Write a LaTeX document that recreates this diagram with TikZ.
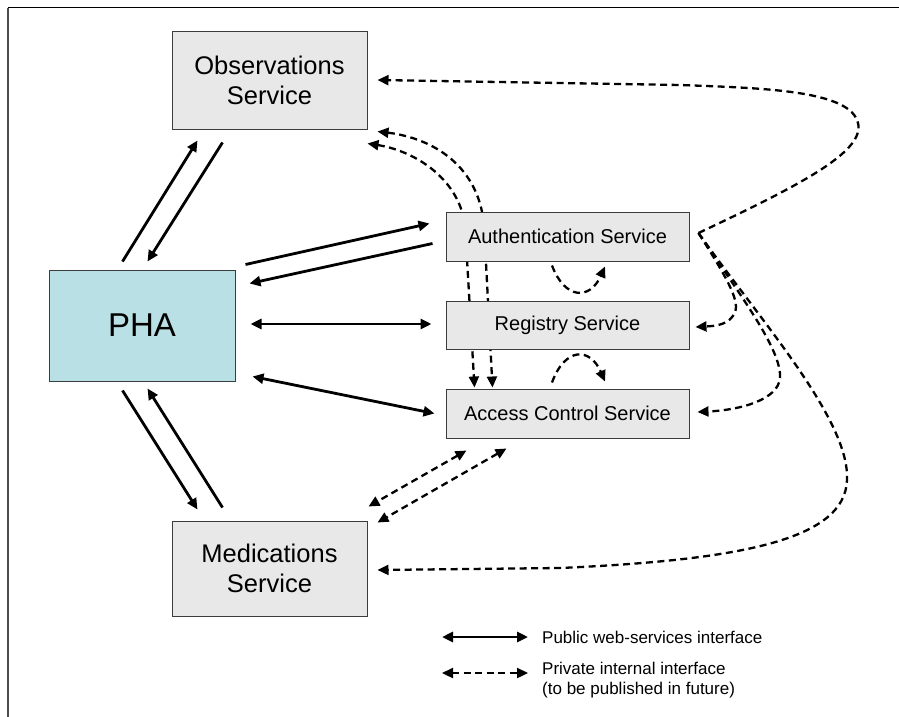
\documentclass[tikz,border=0pt]{standalone}
\usepackage{fontspec}
\setmainfont{Liberation Sans}
\usetikzlibrary{arrows.meta,calc}
\pgfdeclarelayer{background}
\pgfsetlayers{background,main}
\definecolor{boxgray}{RGB}{232,232,232}
\definecolor{phateal}{RGB}{185,224,228}
\definecolor{edgegray}{RGB}{60,60,60}
\begin{document}
\begin{tikzpicture}[x=1pt,y=-1pt,
  tip/.tip={Triangle[length=11pt,width=10pt]},
  box/.style={draw=edgegray, line width=1pt, fill=boxgray, inner sep=0pt, align=center},
  bigbox/.style={box, minimum width=195pt, font=\fontsize{25.5}{30.5}\selectfont},
  svcbox/.style={box, minimum width=243pt, minimum height=49pt, font=\fontsize{20}{24}\selectfont},
  pub/.style={line width=2.8pt},
  priv/.style={line width=2.3pt, dash pattern=on 7pt off 4.5pt},
  legendtext/.style={anchor=west, inner sep=0pt, align=left, font=\fontsize{17}{20.5}\selectfont}
]
\useasboundingbox (0,0) rectangle (899,717);
% frame
\draw[black, line width=1pt] (8,8) -- (899,8);
\draw[black!70, line width=1.6pt] (8,8) -- (8,717);

% nodes
\node[bigbox, minimum height=97pt] (obs) at (269.5,80.5) {Observations\\Service};
\node[bigbox, minimum height=95pt] (med) at (269.5,568.5) {Medications\\Service};
\node[box, fill=phateal, minimum width=186pt, minimum height=111pt, font=\fontsize{33}{38}\selectfont] (pha) at (142,325.5) {PHA};
\node[svcbox] (auth) at (567.5,236.5) {Authentication Service};
\node[svcbox, minimum height=48pt] (reg) at (567.5,325) {Registry Service};
\node[svcbox] (acc) at (567.5,413.5) {Access Control Service};

\coordinate (hub) at ($(auth.east)+(9,-3.5)$);

% dashed curves passing behind the service boxes
\begin{pgfonlayer}{background}
\draw[priv, tip-tip] ($(obs.south east)+(10,2)$) .. controls (425,137) and (478,160) .. (484,225) -- ($(acc.north west)+(47,-1)$);
\draw[priv, tip-tip] ($(obs.south east)+(0,14)$) .. controls (410,150) and (458,175) .. (465,225) -- ($(acc.north west)+(29,-1)$);
\end{pgfonlayer}

% public (solid) connectors
\draw[pub, -tip] ($(pha.north west)+(74,-8)$) -- ($(obs.south west)+(26,11)$);
\draw[pub, -tip] ($(obs.south west)+(51,13)$) -- ($(pha.north west)+(99,-8)$);
\draw[pub, -tip] ($(pha.north east)+(10,-5)$) -- ($(auth.north west)+(-16,12)$);
\draw[pub, -tip] ($(auth.north west)+(-13,32)$) -- ($(pha.north east)+(14,14)$);
\draw[pub, tip-tip] ($(pha.east)+(15,-1.5)$) -- ($(reg.west)+(-14,-1)$);
\draw[pub, tip-tip] ($(pha.south east)+(17,-5)$) -- ($(acc.west)+(-11,0)$);
\draw[pub, -tip] ($(pha.south west)+(74,9)$) -- ($(med.north west)+(26,-11)$);
\draw[pub, -tip] ($(med.north west)+(51,-13)$) -- ($(pha.south west)+(99,7)$);

% private (dashed) connectors
\draw[priv, -tip] ($(auth.south)+(-15.5,4)$) .. controls (565,300) and (590,300) .. ($(auth.south)+(37.5,5)$);
\draw[priv, -tip] ($(acc.north)+(-15.5,-6)$) .. controls (565,347) and (590,347) .. ($(acc.north)+(37.5,-7)$);
\draw[priv, -tip] (hub) .. controls (800,185) and (870,150) .. (857,120) .. controls (845,90) and (760,88) .. (680,85) -- ($(obs.east)+(10,-0.5)$);
\draw[priv, -tip] (hub) .. controls (725,275) and (740,300) .. (735,312) .. controls (730,325) and (715,326) .. ($(reg.east)+(6,2)$);
\draw[priv, -tip] (hub) .. controls (740,295) and (782,350) .. (780,378) .. controls (778,400) and (740,410) .. ($(acc.east)+(8,-1.5)$);
\draw[priv, -tip] (hub) .. controls (760,320) and (850,420) .. (847,480) .. controls (845,540) and (740,560) .. (560,568) -- ($(med.east)+(10,1.5)$);
\draw[priv, tip-tip] ($(acc.south west)+(21,12)$) -- ($(med.north east)+(1,-14)$);
\draw[priv, tip-tip] ($(acc.south west)+(61,10)$) -- ($(med.north east)+(10,2)$);

% legend
\coordinate (l1a) at (442,637);
\coordinate (l1b) at (528,637);
\coordinate (l2a) at (442,673);
\coordinate (l2b) at (528,673);
\draw[pub, tip-tip] (l1a) -- (l1b);
\draw[priv, tip-tip] (l2a) -- (l2b);
\node[legendtext] (lg1) at (542,637) {Public web-services interface};
\node[legendtext] (lg2) at (542,680) {Private internal interface\\(to be published in future)};
\end{tikzpicture}
\end{document}
